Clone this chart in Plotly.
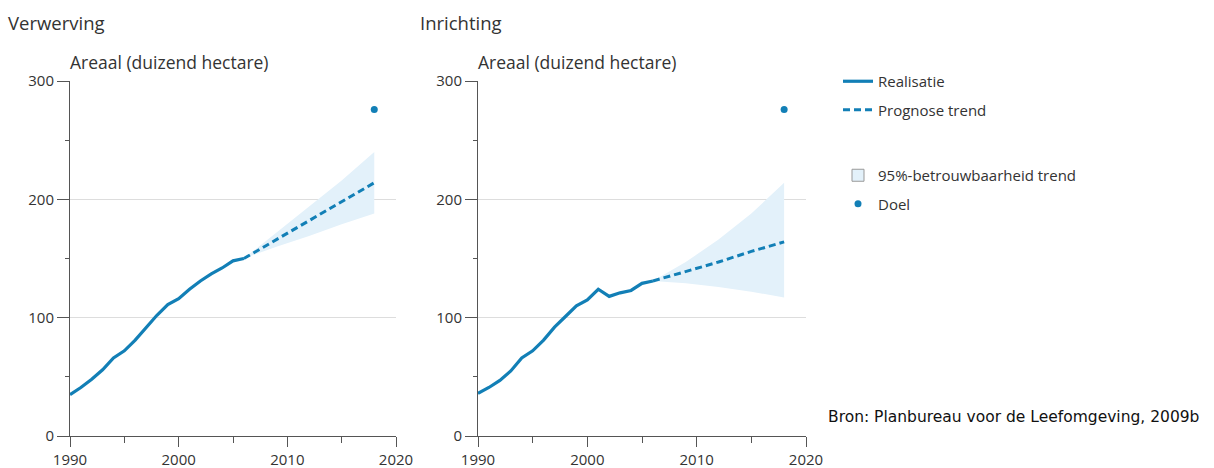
import plotly.graph_objects as go

# ---- data ----
years_real = list(range(1990, 2007))
verwerving_real = [35, 41, 48, 56, 66, 72, 81, 92, 102, 111, 116, 124, 131, 137, 142, 148, 150]
inrichting_real = [36, 41, 47, 55, 66, 72, 81, 92, 101, 110, 115, 124, 118, 121, 123, 129, 131]

years_trend = [2006, 2009, 2012, 2015, 2018]
verwerving_trend = [150, 166, 182, 198, 214]
verwerving_upper = [150, 172, 194, 216, 240]
verwerving_lower = [150, 160, 169, 179, 188]
inrichting_trend = [131, 139, 147, 156, 164]
inrichting_upper = [131, 147, 166, 188, 214]
inrichting_lower = [131, 129, 126, 122, 117]

doel_year = [2018]
verwerving_doel = [276]
inrichting_doel = [276]

panel_titles = ["Verwerving", "Inrichting"]
axis_title = "Areaal (duizend hectare)"
source_text = "Bron: Planbureau voor de Leefomgeving, 2009b"

# ---- styles ----
BLUE = "#127fb6"
BAND = "#e3f1fa"
FONT = "Open Sans"
TXT = "#333333"
W, H = 1214, 468

fig = go.Figure()

panels = [
    ("x", "y", verwerving_real, verwerving_trend, verwerving_upper, verwerving_lower, verwerving_doel),
    ("x2", "y2", inrichting_real, inrichting_trend, inrichting_upper, inrichting_lower, inrichting_doel),
]

for i, (xa, ya, real, trend, up, lo, doel) in enumerate(panels):
    first = i == 0
    fig.add_trace(go.Scatter(x=years_trend, y=lo, xaxis=xa, yaxis=ya, mode="lines",
                             line=dict(width=0, color=BAND), showlegend=False, hoverinfo="skip"))
    fig.add_trace(go.Scatter(x=years_trend, y=up, xaxis=xa, yaxis=ya, mode="lines",
                             line=dict(width=0, color=BAND), fill="tonexty", fillcolor=BAND,
                             showlegend=False, hoverinfo="skip"))
    fig.add_trace(go.Scatter(x=years_trend, y=trend, xaxis=xa, yaxis=ya, mode="lines",
                             line=dict(color=BLUE, width=3, dash="7px,4px"),
                             name="Prognose trend", legend="legend", legendgroup="g2",
                             legendrank=2, showlegend=first))
    fig.add_trace(go.Scatter(x=years_real, y=real, xaxis=xa, yaxis=ya, mode="lines",
                             line=dict(color=BLUE, width=3.2),
                             name="Realisatie", legend="legend", legendgroup="g1",
                             legendrank=1, showlegend=first))
    fig.add_trace(go.Scatter(x=doel_year, y=doel, xaxis=xa, yaxis=ya, mode="markers",
                             marker=dict(color=BLUE, size=7),
                             name="Doel", legend="legend2", legendgroup="g4",
                             legendrank=4, showlegend=first))

# legend-only entry for the confidence band
fig.add_trace(go.Bar(x=[None], y=[None], xaxis="x", yaxis="y",
                     marker=dict(color=BAND, line=dict(color="#999999", width=1)),
                     name="95%-betrouwbaarheid trend", legend="legend2", legendgroup="g3",
                     legendrank=3))

y_dom = [32 / H, 387 / H]
x_doms = [[70 / W, 396 / W], [478 / W, 806 / W]]

axis_common = dict(showline=True, linecolor="#555555", linewidth=1, ticks="outside",
                   tickcolor="#555555", tickfont=dict(family=FONT, size=15, color=TXT),
                   zeroline=False, automargin=False)

for i, xd in enumerate(x_doms):
    sfx = "" if i == 0 else str(i + 1)
    fig.update_layout(**{
        "xaxis" + sfx: dict(domain=xd, range=[1990, 2020], dtick=10, tick0=1990, showgrid=False,
                            anchor="y" + sfx, ticklen=10,
                            minor=dict(dtick=5, tick0=1990, ticks="outside", ticklen=6,
                                       tickcolor="#555555", showgrid=False),
                            **axis_common),
        "yaxis" + sfx: dict(domain=y_dom, range=[0, 300], dtick=100, tick0=0, showgrid=True,
                            gridcolor="#dddddd", gridwidth=1, anchor="x" + sfx, ticklen=12,
                            minor=dict(dtick=50, tick0=0, ticks="outside", ticklen=4,
                                       tickcolor="#555555", showgrid=False),
                            **axis_common),
    })

annotations = []
for i, t in enumerate(panel_titles):
    sfx = "" if i == 0 else str(i + 1)
    annotations.append(dict(text=t, xref="paper", yref="paper", x=(6 if i == 0 else 418) / W,
                            y=1 - 22 / H, xanchor="left", yanchor="middle", showarrow=False,
                            font=dict(family=FONT, size=18.5, color=TXT)))
    annotations.append(dict(text=axis_title, xref="x" + sfx + " domain", yref="paper", x=0,
                            y=1 - 62 / H, xanchor="left", yanchor="middle", showarrow=False,
                            xshift=-2,
                            font=dict(family=FONT, size=17.5, color=TXT)))
annotations.append(dict(text=source_text, xref="paper", yref="paper", x=1201 / W, y=1 - 417 / H,
                        xanchor="right", yanchor="middle", showarrow=False,
                        font=dict(family="DejaVu Sans", size=15.5, color="#111111")))

legend_common = dict(font=dict(family=FONT, size=15, color=TXT), bgcolor="rgba(0,0,0,0)",
                     traceorder="grouped", tracegroupgap=6, xanchor="left", yanchor="top",
                     itemwidth=30)

fig.update_layout(
    width=W, height=H,
    margin=dict(l=0, r=0, t=0, b=0),
    paper_bgcolor="white", plot_bgcolor="white",
    annotations=annotations,
    legend=dict(x=838 / W, y=1 - 65 / H, **legend_common),
    legend2=dict(x=838 / W, y=1 - 159 / H, **legend_common),
    showlegend=True,
)

fig.write_html("out.html", config={"displayModeBar": False},
               post_script="document.body.style.margin='0px';")
